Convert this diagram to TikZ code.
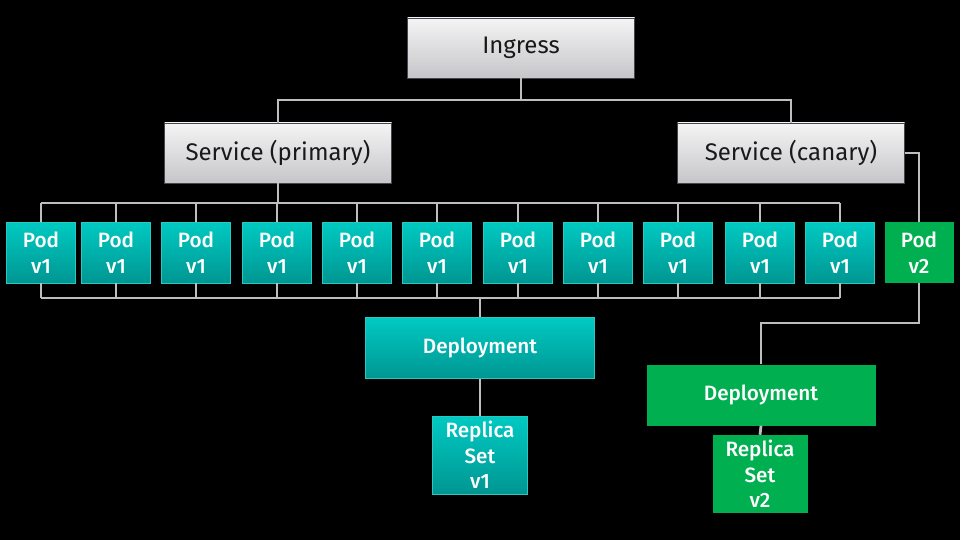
\documentclass[tikz,border=0pt]{standalone}
\usepackage{fontspec}
\setmainfont{Fira Sans}[BoldFont={Fira Sans Medium}]
\definecolor{tealtop}{RGB}{0,202,194}
\definecolor{tealbot}{RGB}{0,150,146}
\definecolor{tealedge}{RGB}{40,200,195}
\definecolor{greenbox}{RGB}{0,176,80}
\definecolor{greytop}{RGB}{244,244,244}
\definecolor{greybot}{RGB}{198,198,202}
\definecolor{greyedge}{RGB}{70,70,80}
\definecolor{wire}{RGB}{190,190,190}
\definecolor{darktext}{RGB}{25,25,25}

\tikzset{
	svcbox/.style={draw=greyedge, line width=0.8pt, top color=greytop, bottom color=greybot,
		text=darktext, minimum width=227pt, minimum height=60pt, inner sep=0pt,
		font=\fontsize{24}{28}\selectfont},
	tealbox/.style={draw=tealedge, line width=0.8pt, top color=tealtop, bottom color=tealbot,
		text=white, inner sep=0pt, align=center, font=\fontsize{20.7}{25.5}\selectfont\bfseries},
	greenbox/.style={fill=greenbox, text=white, inner sep=0pt, align=center,
		font=\fontsize{20.7}{25.5}\selectfont\bfseries},
	podbox/.style={minimum width=69pt, minimum height=61pt},
	depbox/.style={minimum width=229pt, minimum height=61pt},
	rsbox/.style={minimum width=95pt, minimum height=78pt},
	wireline/.style={draw=wire, line width=2.8pt}
}

\begin{document}
\begin{tikzpicture}[x=1pt, y=-1pt]

	% Fondo negro
	\fill[black] (0,0) rectangle (960,540);
	\useasboundingbox (0,0) rectangle (960,540);

	% Ingress y servicios
	\node[svcbox] (ingress) at (521,48) {Ingress};
	\node[svcbox] (srvp) at (278,153) {Service (primary)};
	\node[svcbox] (srvc) at (791,153) {Service (canary)};

	% Pods v1
	\foreach \x [count=\i] in {41,116,196,277,357,437,518,598,678,760,840}
		\node[tealbox, podbox] (p\i) at (\x,252.5) {Pod\\v1};

	% Pod v2
	\node[greenbox, podbox] (pod2) at (919,252.5) {Pod\\v2};

	% Deployments y replica sets
	\node[tealbox, depbox] (dep1) at (480,348) {Deployment};
	\node[tealbox, rsbox] (rs1) at (480,455) {Replica\\Set\\v1};
	\node[greenbox, depbox] (dep2) at (761,395) {Deployment};
	\node[greenbox, rsbox] (rs2) at (760,474) {Replica\\Set\\v2};

	% Buses
	\coordinate (ingbus) at (0,100);
	\coordinate (topbus) at (0,203);
	\coordinate (botbus) at (0,298);
	\coordinate (canbus) at (0,323);

	% Conexiones
	\draw[wireline] (ingress.south) -- (ingress.south |- ingbus);
	\draw[wireline] (srvp.north) |- (ingress.south |- ingbus) -| (srvc.north);
	\draw[wireline] (srvp.south) -- (srvp.south |- topbus);
	\draw[wireline] (p1.north |- topbus) -- (p11.north |- topbus);
	\draw[wireline] (p1.south |- botbus) -- (p11.south |- botbus);
	\foreach \i in {1,...,11} {
		\draw[wireline] (p\i.north) -- (p\i.north |- topbus);
		\draw[wireline] (p\i.south) -- (p\i.south |- botbus);
	}
	\draw[wireline] (dep1.north) -- (dep1.north |- botbus);
	\draw[wireline] (dep1.south) -- (rs1.north);

	\draw[wireline] (srvc.east) -| (pod2.north);
	\draw[wireline] (pod2.south) -- (pod2.south |- canbus) -| (dep2.north);
	\draw[wireline] (dep2.south) -- (rs2.north);

\end{tikzpicture}
\end{document}
